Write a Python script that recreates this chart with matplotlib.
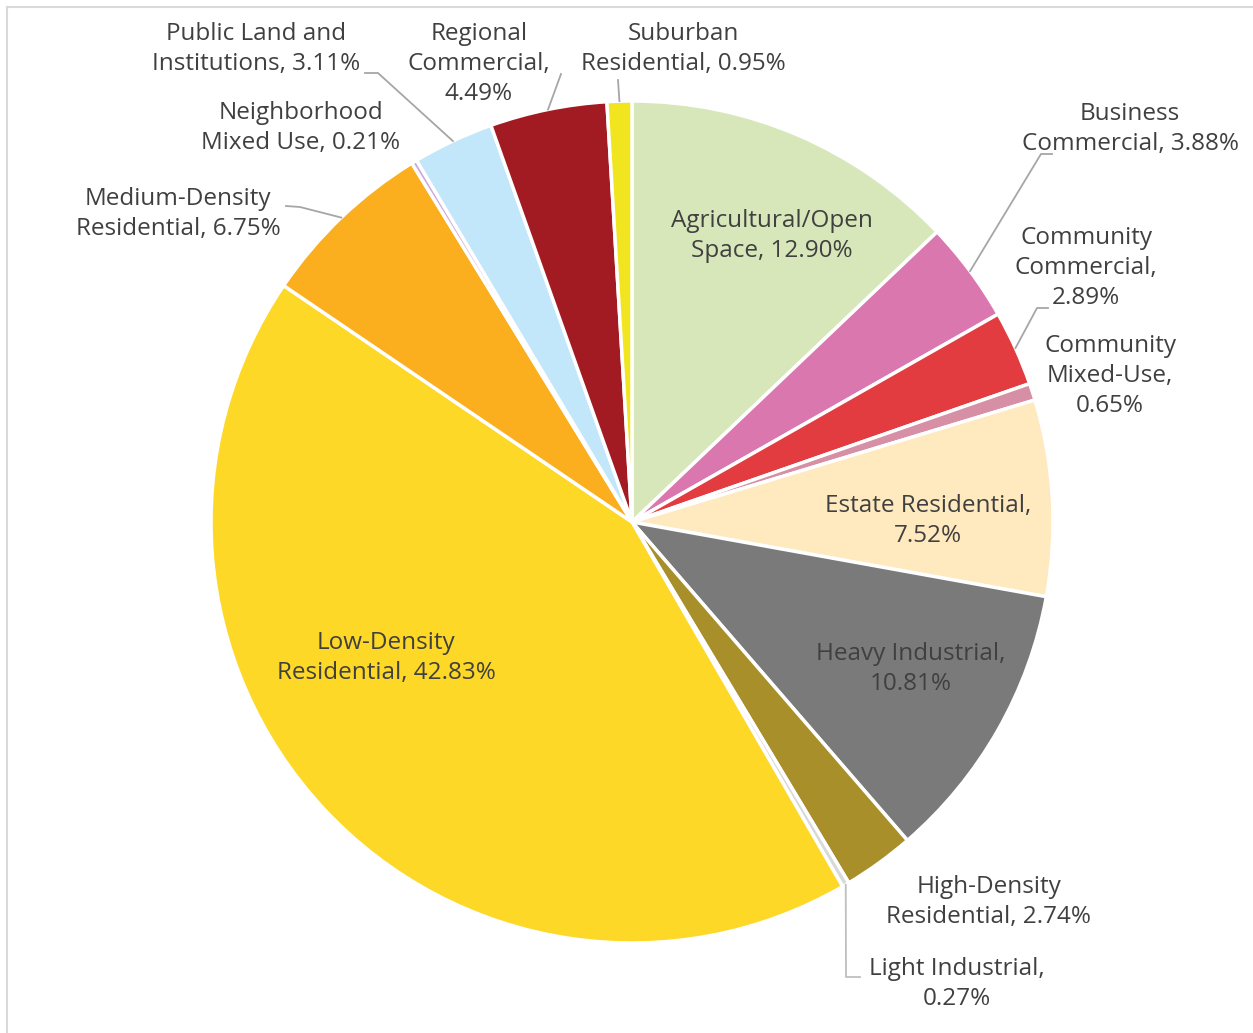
import numpy as np
import matplotlib
matplotlib.use("Agg")
import matplotlib.pyplot as plt

plt.rcParams['font.family'] = ['Open Sans', 'DejaVu Sans']

W, H = 1253, 1033

categories = ["Agricultural/Open Space", "Business Commercial", "Community Commercial",
              "Community Mixed-Use", "Estate Residential", "Heavy Industrial",
              "High-Density Residential", "Light Industrial", "Low-Density Residential",
              "Medium-Density Residential", "Neighborhood Mixed Use",
              "Public Land and Institutions", "Regional Commercial", "Suburban Residential"]
shares = [12.90, 3.88, 2.89, 0.65, 7.52, 10.81, 2.74, 0.27, 42.83, 6.75, 0.21, 3.11, 4.49, 0.95]
colors = ["#D7E7BA", "#DA77AE", "#E23C40", "#D68FA5", "#FFE9BE", "#7A7A7A",
          "#A88F2A", "#D9D9D9", "#FDD827", "#FBAE1E", "#CDA9DC", "#C2E6FA",
          "#A31B22", "#F0E51E"]

# label text with line breaks as in the original
label_fmt = ["Agricultural/Open\nSpace, {}", "Business\nCommercial, {}",
             "Community\nCommercial,\n{}", "Community\nMixed-Use,\n{}",
             "Estate Residential,\n{}", "Heavy Industrial,\n{}",
             "High-Density\nResidential, {}", "Light Industrial,\n{}",
             "Low-Density\nResidential, {}", "Medium-Density\nResidential, {}",
             "Neighborhood\nMixed Use, {}", "Public Land and\nInstitutions, {}",
             "Regional\nCommercial,\n{}", "Suburban\nResidential, {}"]

# label centres in pixels (x, y from top)
label_pos = [(772, 236), (1130, 129), (1086, 268), (1110, 376), (928, 521),
             (911, 669), (989, 902), (957, 984), (386, 658), (178, 214),
             (301, 128), (256, 49), (479, 64), (683, 49)]
# leader line points (label side) in pixels
leaders = {1: [(1052, 154), (1041, 154)],
           2: [(1048, 308), (1037, 308)],
           7: [(860, 977), (846, 977)],
           9: [(286, 206), (300, 207)],
           11: [(365, 73), (378, 73)],
           12: [(561, 74)],
           13: [(618, 80)]}

cx, cy, r = 632, H - 522, 421

fig = plt.figure(figsize=(W / 100, H / 100), dpi=100)
ax = fig.add_axes([0, 0, 1, 1])
wedges, _ = ax.pie(shares, colors=colors, startangle=90, counterclock=False,
                   center=(cx, cy), radius=r,
                   wedgeprops=dict(edgecolor="white", linewidth=2.5))
ax.set_xlim(0, W)
ax.set_ylim(0, H)
ax.set_aspect("equal")
ax.axis("off")

txt_color = "#404040"
for i, w in enumerate(wedges):
    x, y = label_pos[i]
    ax.text(x, H - y, label_fmt[i].format(f"{shares[i]:.2f}%"), ha="center", va="center",
            fontsize=17.5, color=txt_color, linespacing=1.36)
    if i in leaders:
        ang = np.deg2rad((w.theta1 + w.theta2) / 2)
        ex, ey = cx + r * np.cos(ang), cy + r * np.sin(ang)
        pts = [(px, H - py) for px, py in leaders[i]] + [(ex, ey)]
        xs, ys = zip(*pts)
        lc = "#BFBFBF" if i == 7 else "#A6A6A6"
        ax.plot(xs, ys, color=lc, lw=1.3)

# thin frame on top and left edge
ax.plot([7, W], [H - 7, H - 7], color="#D9D9D9", lw=1.5)
ax.plot([7, 7], [0, H - 7], color="#D9D9D9", lw=1.5)

fig.savefig("out.png", dpi=100)
